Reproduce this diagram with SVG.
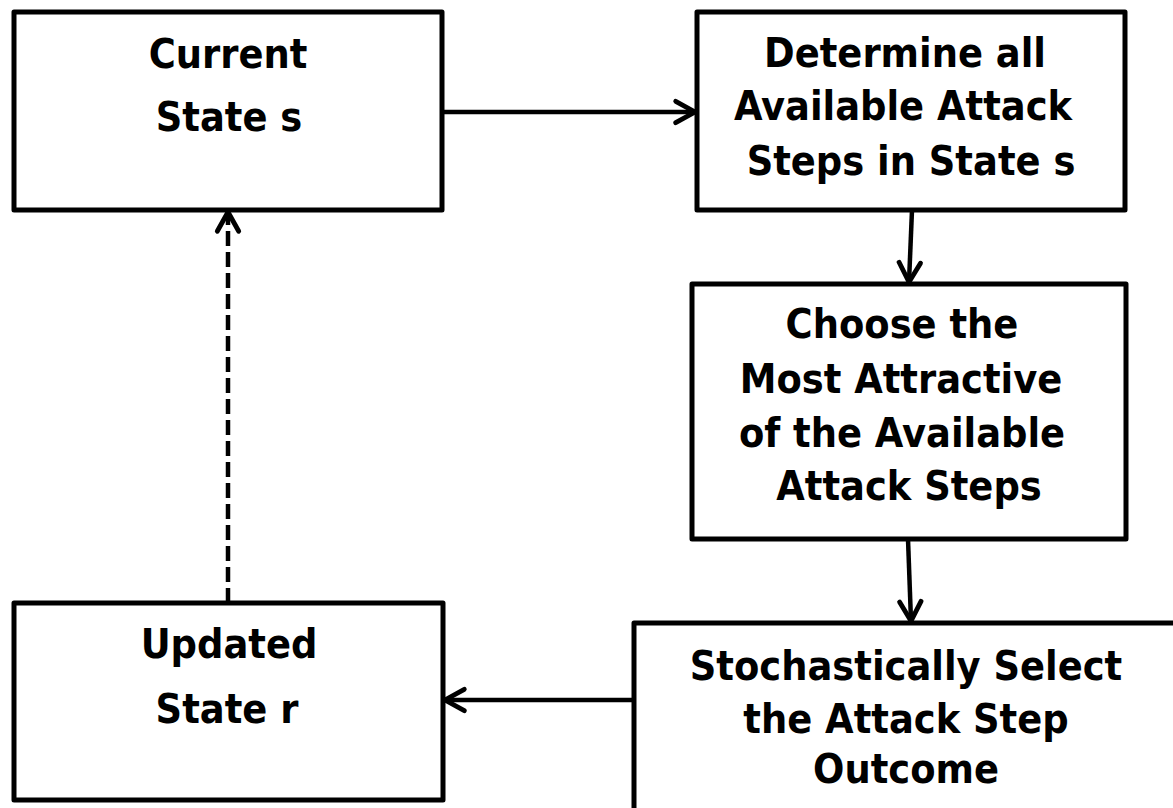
<svg xmlns="http://www.w3.org/2000/svg" width="1173" height="808" viewBox="0 0 1173 808">
  <style>
    .box { fill: #ffffff; stroke: #000000; stroke-width: 5; stroke-linejoin: round; }
    .lbl { font-family: "DejaVu Sans Condensed", "DejaVu Sans", sans-serif; font-stretch: condensed; font-weight: bold; font-size: 41px; fill: #000000; text-anchor: middle; }
    .edge { fill: none; stroke: #000000; stroke-width: 4.5; }
    .dash { stroke-dasharray: 15 6; }
  </style>
  <defs>
    <marker id="chevron" markerUnits="userSpaceOnUse" markerWidth="30" markerHeight="30" viewBox="-24 -14 28 28" refX="0" refY="0" orient="auto" overflow="visible">
      <path d="M -18,-10 L 0,0 L -18,10" fill="none" stroke="#000000" stroke-width="4.5" stroke-linecap="round" stroke-linejoin="miter"/>
    </marker>
  </defs>

  <rect width="1173" height="808" fill="#ffffff"/>

  <!-- connectors -->
  <g id="connectors">
    <line class="edge" x1="442" y1="112" x2="695" y2="112" marker-end="url(#chevron)"/>
    <line class="edge" x1="912" y1="210" x2="909" y2="282" marker-end="url(#chevron)"/>
    <line class="edge" x1="908" y1="539" x2="911" y2="621" marker-end="url(#chevron)"/>
    <line class="edge" x1="634" y1="700" x2="445" y2="700" marker-end="url(#chevron)"/>
    <line class="edge dash" x1="228" y1="603" x2="228" y2="212" marker-end="url(#chevron)"/>
  </g>

  <!-- nodes -->
  <g id="current-state">
    <rect class="box" x="14" y="12" width="428" height="198"/>
    <text class="lbl" x="228" y="68">Current</text>
    <text class="lbl" x="229" y="131">State s</text>
  </g>

  <g id="determine-steps">
    <rect class="box" x="697" y="12" width="428" height="198"/>
    <text class="lbl" x="905" y="67">Determine all</text>
    <text class="lbl" x="903" y="120">Available Attack</text>
    <text class="lbl" x="911" y="175">Steps in State s</text>
  </g>

  <g id="choose-step">
    <rect class="box" x="692" y="284" width="434" height="255"/>
    <text class="lbl" x="902" y="338">Choose the</text>
    <text class="lbl" x="901" y="393">Most Attractive</text>
    <text class="lbl" x="902" y="447">of the Available</text>
    <text class="lbl" x="909" y="500">Attack Steps</text>
  </g>

  <g id="select-outcome">
    <rect class="box" x="634" y="623" width="560" height="210"/>
    <text class="lbl" x="906" y="680">Stochastically Select</text>
    <text class="lbl" x="906" y="733">the Attack Step</text>
    <text class="lbl" x="906" y="783">Outcome</text>
  </g>

  <g id="updated-state">
    <rect class="box" x="14" y="603" width="429" height="197"/>
    <text class="lbl" x="229" y="658">Updated</text>
    <text class="lbl" x="227" y="723">State r</text>
  </g>
</svg>
